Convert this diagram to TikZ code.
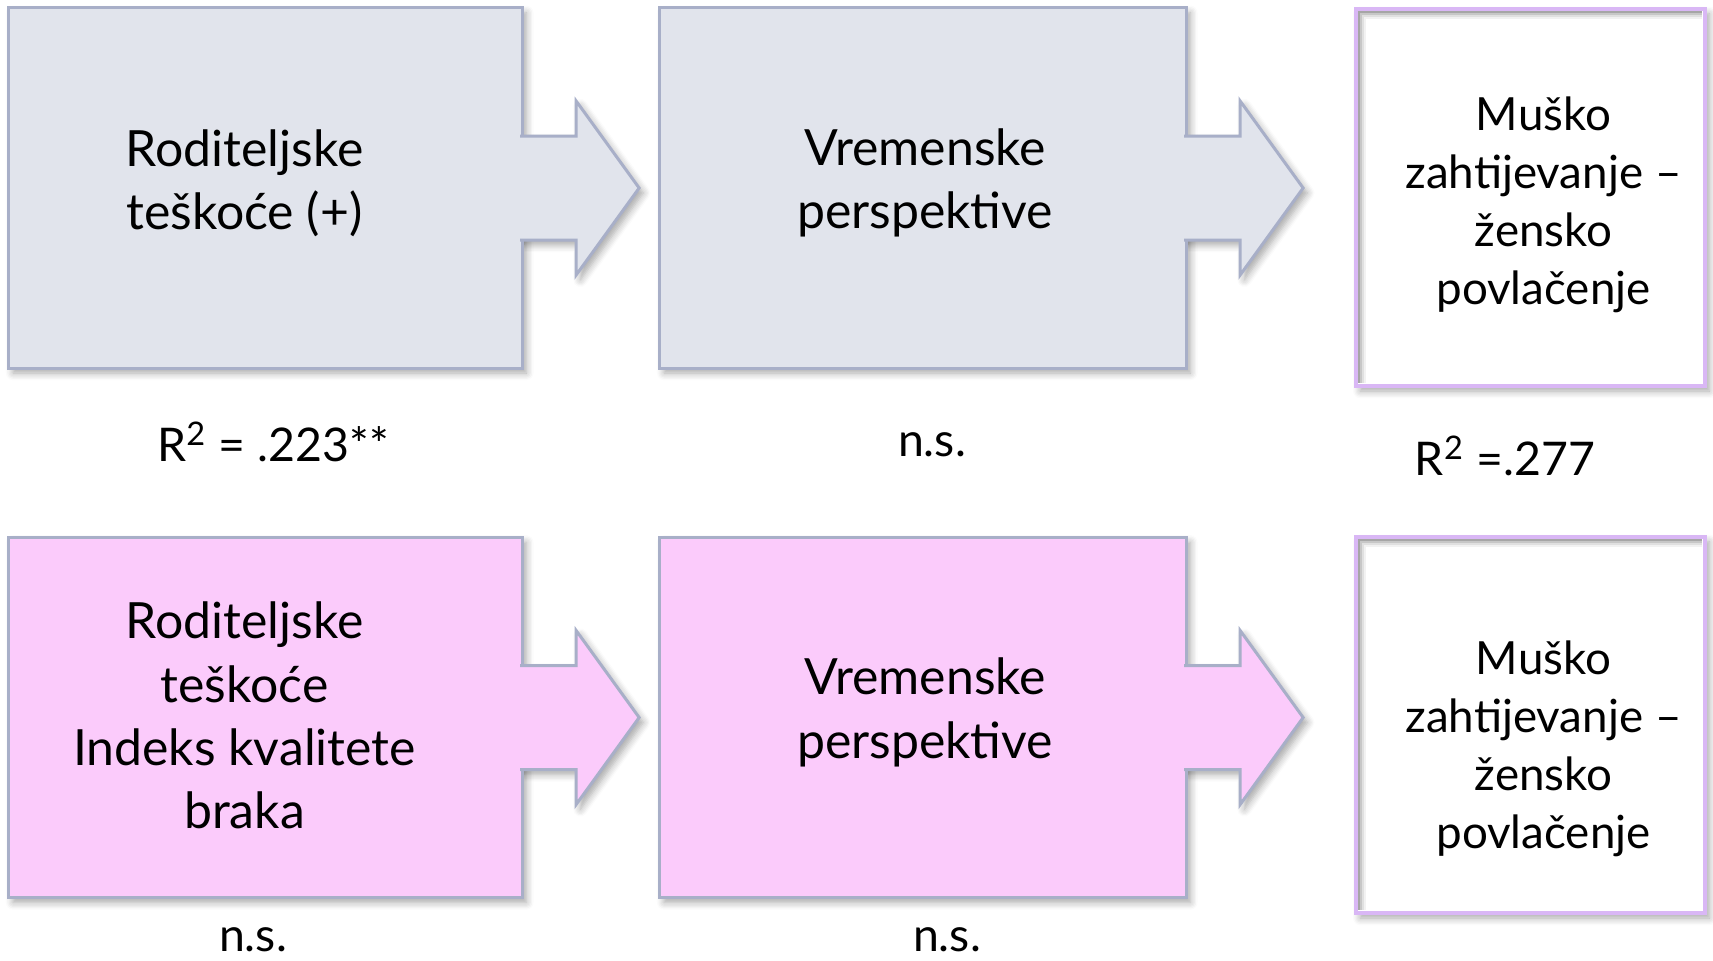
\documentclass[tikz,border=0pt]{standalone}
\usepackage{fontspec}
\setmainfont{Lato}
\usetikzlibrary{calc,shadows.blur}
\definecolor{sivo}{RGB}{225,228,236}
\definecolor{rub}{RGB}{168,175,200}
\definecolor{roza}{RGB}{251,203,251}
\definecolor{lila}{RGB}{217,183,245}

\begin{document}
\begin{tikzpicture}[x=0.01cm, y=-0.01cm,
    sjena/.style={blur shadow={shadow xshift=1.2pt, shadow yshift=-1.4pt, shadow blur steps=6, shadow opacity=35}},
    kutija/.style={draw=rub, line width=0.85pt, inner sep=0pt, outer sep=0pt, minimum height=3.6cm, sjena},
    bijela/.style={draw=lila, fill=white, line width=1.15pt, inner sep=0pt, outer sep=0pt, minimum width=3.49cm, sjena},
    strelica/.style={draw=rub, line width=0.85pt, line join=miter, sjena},
    tekst/.style={align=center, font=\fontsize{14.2}{18}\selectfont},
    tekstM/.style={align=center, font=\fontsize{13}{16.5}\selectfont},
    oznaka/.style={inner sep=1pt, font=\fontsize{13.2}{16}\selectfont}]
  \useasboundingbox (0,0) rectangle (1713,960);

  % gornji red
  \node[kutija, fill=sivo, minimum width=5.13cm] (A1) at (265.5,188) {};
  \node[kutija, fill=sivo, minimum width=5.26cm] (B1) at (923,188) {};
  \node[bijela, minimum height=3.77cm] (C1) at (1530.5,197.5) {};
  % donji red
  \node[kutija, fill=roza, minimum width=5.13cm] (A2) at (265.5,717.5) {};
  \node[kutija, fill=roza, minimum width=5.26cm] (B2) at (923,717.5) {};
  \node[bijela, minimum height=3.76cm] (C2) at (1530.5,725) {};

  % strelice
  \foreach \k/\boja in {A1/sivo, B1/sivo, A2/roza, B2/roza}
    \path[strelica, fill=\boja] ($(\k.east)+(-2,-52)$) -- ++(56,0) -- ++(0,-35)
      -- ($(\k.east)+(117,0)$) -- ($(\k.east)+(54,87)$) -- ++(0,-35)
      -- ($(\k.east)+(-2,52)$);

  % unutarnja sjena bijelih kutija
  \foreach \k in {C1, C2}
    \foreach \d/\o in {3/.35, 5/.22, 7/.12, 9/.05}
      \draw[black, opacity=\o, line width=0.6pt]
        ($(\k.south west)+(\d,-3)$) -- ($(\k.north west)+(\d,\d)$) -- ($(\k.north east)+(-3,\d)$);

  \node[tekst] (tA1) at ($(A1.center)+(-21,-5)$) {Roditeljske\\teškoće (+)};
  \node[tekst] (tB1) at ($(B1.center)+(2,-5)$) {Vremenske\\perspektive};
  \node[tekstM] (tC1) at ($(C1.center)+(13,7)$) {Muško\\zahtijevanje –\\žensko\\povlačenje};
  \node[tekst] (tA2) at ($(A2.center)+(-21,-2)$) {Roditeljske\\teškoće\\Indeks kvalitete\\braka};
  \node[tekst] (tB2) at ($(B2.center)+(2,-5)$) {Vremenske\\perspektive};
  \node[tekstM] (tC2) at ($(C2.center)+(13,24)$) {Muško\\zahtijevanje –\\žensko\\povlačenje};

  \node[oznaka] (rA1) at (273,442) {R\textsuperscript{2} = .223**};
  \node[oznaka] (rB1) at (932,445) {n.s.};
  \node[oznaka] (rC1) at (1505,456) {R\textsuperscript{2} =.277};
  \node[oznaka] (rA2) at (253,940) {n.s.};
  \node[oznaka] (rB2) at (947,940) {n.s.};
\end{tikzpicture}
\end{document}
